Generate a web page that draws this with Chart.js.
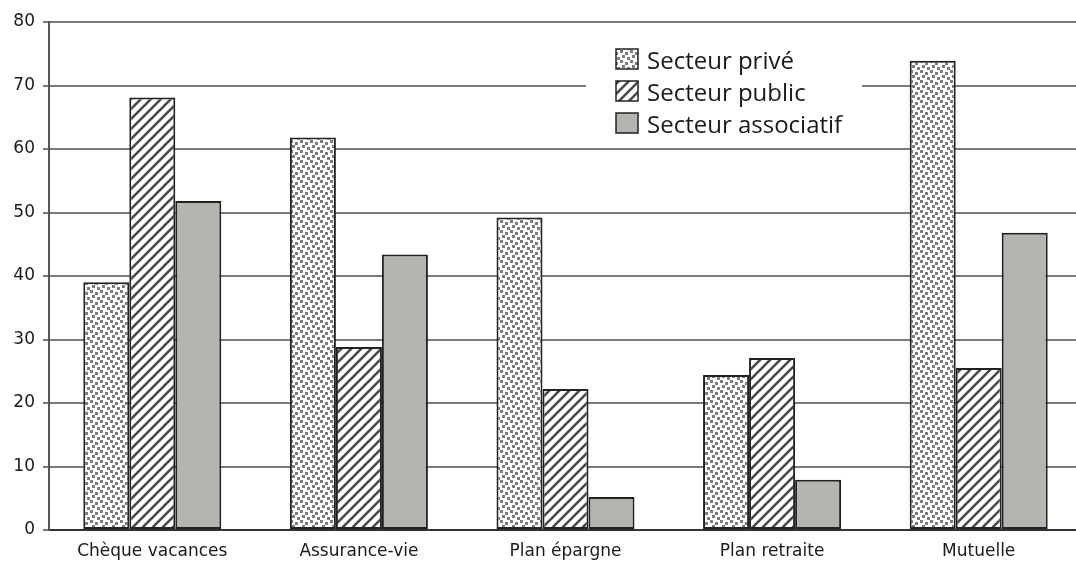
<!DOCTYPE html>
<html>
<head>
<meta charset="utf-8">
<script src="https://cdn.jsdelivr.net/npm/chart.js@4.4.1/dist/chart.umd.min.js"></script>
<style>
	html, body { margin: 0; padding: 0; background: #fff; overflow: hidden; }
	#wrap { position: absolute; left: 0; top: 0; width: 1084px; height: 566px; }
</style>
</head>
<body>
<div id="wrap"><canvas id="chart"></canvas></div>
<script>
var categories = ["Chèque vacances", "Assurance-vie", "Plan épargne", "Plan retraite", "Mutuelle"];
var seriesNames = ["Secteur privé", "Secteur public", "Secteur associatif"];
var prive = [39, 61.8, 49.2, 24.4, 73.9];
var publicSector = [68.1, 28.8, 22.2, 27.1, 25.5];
var associatif = [51.8, 43.4, 5.2, 7.9, 46.8];
var yTicks = [0, 10, 20, 30, 40, 50, 60, 70, 80];

// pattern: grey stipple on white
function dotPattern ()
{
	var c = document.createElement("canvas");
	c.width = 10; c.height = 10;
	var g = c.getContext("2d");
	g.fillStyle = "#fff";
	g.fillRect(0, 0, 10, 10);
	g.fillStyle = "#7c7c7c";
	var dots = [[0,0],[5,2],[2,5],[7,7]];
	dots.forEach(function (d) { g.fillRect(d[0], d[1], 3, 3); });
	return g.createPattern(c, "repeat");
}

// pattern: dark "/" stripes on white
function stripePattern ()
{
	var s = 10;
	var c = document.createElement("canvas");
	c.width = s; c.height = s;
	var g = c.getContext("2d");
	g.fillStyle = "#fff";
	g.fillRect(0, 0, s, s);
	g.strokeStyle = "#4a4a4a";
	g.lineWidth = 2.6;
	g.beginPath();
	g.moveTo(-2, s + 2); g.lineTo(s + 2, -2);
	g.moveTo(-2, 2); g.lineTo(2, -2);
	g.moveTo(s - 2, s + 2); g.lineTo(s + 2, s - 2);
	g.stroke();
	return g.createPattern(c, "repeat");
}

var fills = [dotPattern(), stripePattern(), "#b4b5b1"];
var values = [prive, publicSector, associatif];

var legendBox = {
	'id' : 'legendBox',
	'afterDatasetsDraw' : function (chart)
	{
		var ctx = chart.ctx;
		ctx.save();
		ctx.fillStyle = "#fff";
		ctx.fillRect(586, 42, 276, 98);
		ctx.font = "24px 'Open Sans'";
		ctx.textBaseline = "alphabetic";
		for (var i = 0; i < seriesNames.length; i++)
		{
			var y = 49 + i * 32;
			ctx.fillStyle = fills[i];
			ctx.fillRect(616, y, 22, 20);
			ctx.strokeStyle = "#222";
			ctx.lineWidth = 1.5;
			ctx.strokeRect(616, y, 22, 20);
			ctx.fillStyle = "#1a1a1a";
			ctx.fillText(seriesNames[i], 647, y + 20);
		}
		ctx.restore();
	}
};

var chart = new Chart(document.getElementById("chart").getContext("2d"), {
	type : "bar",
	data : {
		labels : categories,
		datasets : seriesNames.map(function (name, i)
		{
			return {
				label : name,
				data : values[i],
				backgroundColor : fills[i],
				borderColor : "#222",
				borderWidth : 2,
				borderSkipped : false,
				categoryPercentage : 0.668,
				barPercentage : 1.0
			};
		})
	},
	options : {
		responsive : true,
		maintainAspectRatio : false,
		animation : false,
		layout : { padding : { top : 22, right : 2, left : 0, bottom : 0 } },
		plugins : { legend : { display : false }, tooltip : { enabled : false } },
		scales : {
			x : {
				grid : { display : false, drawTicks : false },
				border : { color : "#333", width : 2 },
				ticks : { color : "#1a1a1a", font : { family : "'DejaVu Sans'", size : 17 }, padding : 11, maxRotation : 0 },
				afterFit : function (scale) { scale.height = 36; }
			},
			y : {
				min : 0,
				max : 80,
				afterBuildTicks : function (scale) { scale.ticks = yTicks.map(function (v) { return { value : v }; }); },
				grid : { color : "#7a7a7a", lineWidth : 2, tickLength : 6 },
				border : { color : "#555", width : 2 },
				ticks : { color : "#1a1a1a", font : { family : "'DejaVu Sans'", size : 17 }, padding : 8 },
				afterFit : function (scale) { scale.width = 49; }
			}
		}
	},
	plugins : [legendBox]
});
</script>
</body>
</html>
